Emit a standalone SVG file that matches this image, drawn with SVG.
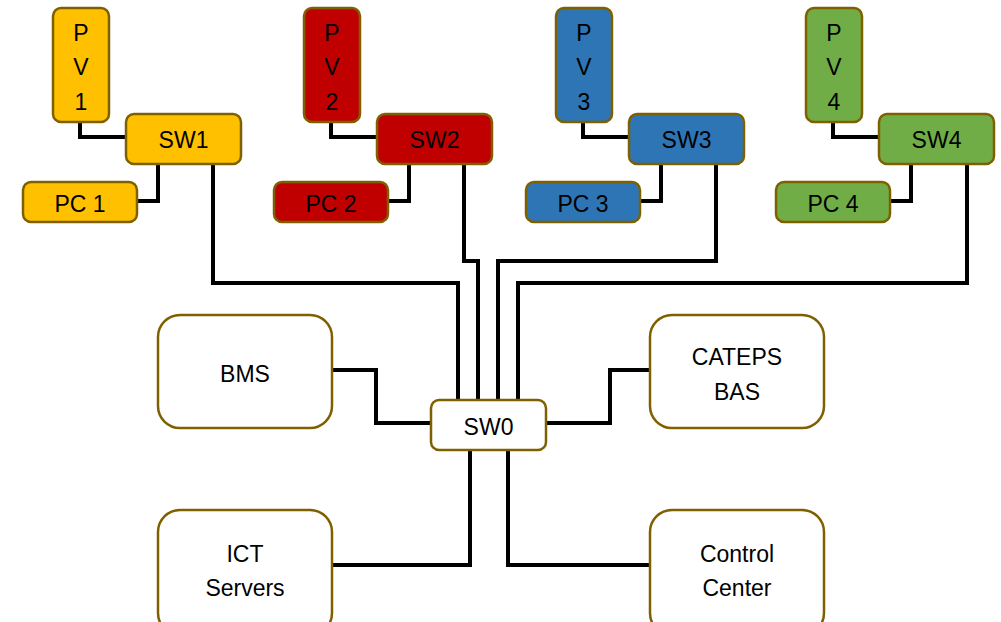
<svg xmlns="http://www.w3.org/2000/svg" width="1001" height="622" viewBox="0 0 1001 622">
<style>
.b{stroke:#7F6000;stroke-width:2.5}
.y{fill:#FFC000}.r{fill:#C00000}.bl{fill:#2E75B6}.g{fill:#70AD47}.w{fill:#FFFFFF}
text{font-family:"Liberation Sans",Arial,sans-serif;font-size:23px;fill:#000;text-anchor:middle}
.c path{fill:none;stroke:#000;stroke-width:4;stroke-linejoin:miter}
</style>
<rect width="1001" height="622" fill="#fff"/>
<g class="c" id="connectors">
<path d="M80,122 V137 H126"/>
<path d="M158,164 V201 H137"/>
<path d="M331,122 V137 H377"/>
<path d="M409,164 V201 H388"/>
<path d="M583,122 V137 H629"/>
<path d="M661,164 V201 H640"/>
<path d="M833,122 V137 H879"/>
<path d="M911,164 V201 H890"/>
<path d="M213,164 V283 H458 V400"/>
<path d="M464,164 V261 H478 V400"/>
<path d="M716,164 V261 H498 V400"/>
<path d="M967,164 V283 H518 V400"/>
<path d="M332,370 H376 V423 H431"/>
<path d="M546,423 H610 V370 H650"/>
<path d="M332,565 H470 V450"/>
<path d="M508,450 V565 H650"/>
</g>
<g id="pv1"><rect class="b y" x="53" y="8" width="56" height="114" rx="8"/><text x="81" y="41">P</text><text x="81" y="75">V</text><text x="81" y="110">1</text></g>
<g id="sw1"><rect class="b y" x="126" y="114" width="115" height="50" rx="8"/><text x="183.5" y="148">SW1</text></g>
<g id="pc1"><rect class="b y" x="23" y="182" width="114" height="40" rx="8"/><text x="80" y="212">PC 1</text></g>
<g id="pv2"><rect class="b r" x="304" y="8" width="56" height="114" rx="8"/><text x="332" y="41">P</text><text x="332" y="75">V</text><text x="332" y="110">2</text></g>
<g id="sw2"><rect class="b r" x="377" y="114" width="115" height="50" rx="8"/><text x="434.5" y="148">SW2</text></g>
<g id="pc2"><rect class="b r" x="274" y="182" width="114" height="40" rx="8"/><text x="331" y="212">PC 2</text></g>
<g id="pv3"><rect class="b bl" x="556" y="8" width="56" height="114" rx="8"/><text x="584" y="41">P</text><text x="584" y="75">V</text><text x="584" y="110">3</text></g>
<g id="sw3"><rect class="b bl" x="629" y="114" width="115" height="50" rx="8"/><text x="686.5" y="148">SW3</text></g>
<g id="pc3"><rect class="b bl" x="526" y="182" width="114" height="40" rx="8"/><text x="583" y="212">PC 3</text></g>
<g id="pv4"><rect class="b g" x="806" y="8" width="56" height="114" rx="8"/><text x="834" y="41">P</text><text x="834" y="75">V</text><text x="834" y="110">4</text></g>
<g id="sw4"><rect class="b g" x="879" y="114" width="115" height="50" rx="8"/><text x="936.5" y="148">SW4</text></g>
<g id="pc4"><rect class="b g" x="776" y="182" width="114" height="40" rx="8"/><text x="833" y="212">PC 4</text></g>
<g id="sw0"><rect class="b w" x="431" y="400" width="115" height="50" rx="8"/><text x="488.5" y="435">SW0</text></g>
<g id="bms"><rect class="b w" x="158" y="315" width="174" height="113" rx="22"/><text x="245" y="382">BMS</text></g>
<g id="cateps"><rect class="b w" x="650" y="315" width="174" height="113" rx="22"/><text x="737" y="365">CATEPS</text><text x="737" y="400">BAS</text></g>
<g id="ict"><rect class="b w" x="158" y="510" width="174" height="125" rx="22"/><text x="245" y="562">ICT</text><text x="245" y="596">Servers</text></g>
<g id="control"><rect class="b w" x="650" y="510" width="174" height="125" rx="22"/><text x="737" y="562">Control</text><text x="737" y="596">Center</text></g>
</svg>
